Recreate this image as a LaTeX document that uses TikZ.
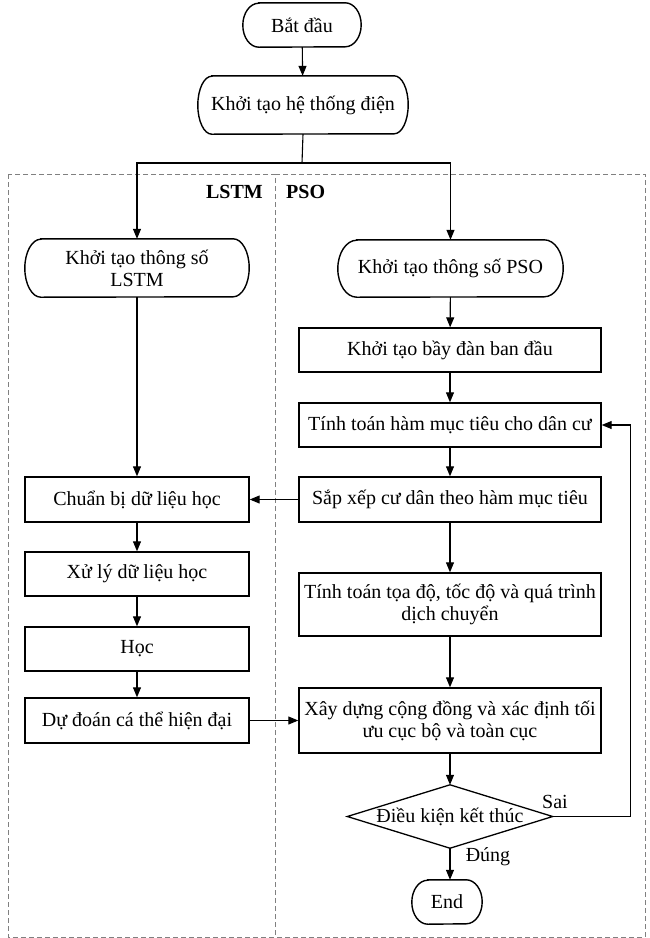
\documentclass[tikz,border=0pt]{standalone}
\usepackage{fontspec}
\setmainfont{Liberation Serif}
\usetikzlibrary{arrows.meta}

% Outline of a terminal box: flat top and bottom, elliptic ends.
% #1 node name, #2 horizontal radius of the ends, #3 half height
\newcommand\termshape[3]{%
  \draw[outline] ([xshift=#2]#1.north west) -- ([xshift=-#2]#1.north east)
    arc[start angle=90, end angle=-90, x radius=#2, y radius=#3]
    -- ([xshift=#2]#1.south west)
    arc[start angle=270, end angle=90, x radius=#2, y radius=#3] -- cycle;}

\begin{document}
\begin{tikzpicture}[x=1pt,y=1pt,
  txt/.style={font=\fontsize{20}{22}\selectfont, align=center, inner sep=0pt},
  outline/.style={draw=black, line width=1.4pt},
  proc/.style={txt, outline, rectangle},
  flow/.style={line width=1.1pt, -{Triangle[length=10pt,width=8pt]}},
  link/.style={line width=1.1pt},
  lane/.style={draw=black!50, line width=0.8pt, dash pattern=on 5pt off 3pt},
  lanelabel/.style={font=\fontsize{20}{22}\selectfont\bfseries, inner sep=0pt}
]
\useasboundingbox (0,0) rectangle (649,-938);

% swim lanes (the PSO lane shares the divider with the LSTM lane)
\draw[lane] (8,-174) rectangle (275,-937);
\draw[lane] (275,-174) -- (645,-174) -- (645,-937) -- (275,-937);
\node[lanelabel, anchor=east] (lstmlabel) at (263,-192) {LSTM};
\node[lanelabel, anchor=west] (psolabel) at (286,-192) {PSO};

% common part
\node[txt, minimum width=118, minimum height=44] (start) at (302,-25) {Bắt đầu};
\node[txt, minimum width=210, minimum height=58] (sysinit) at (303,-105) {Khởi tạo hệ thống điện};
\coordinate (split) at (302,-163);

% LSTM branch
\node[txt, minimum width=224, minimum height=58] (lstminit) at (137,-268) {Khởi tạo thông số\\LSTM};
\node[proc, minimum width=224, minimum height=45] (prep) at (137,-499.5) {Chuẩn bị dữ liệu học};
\node[proc, minimum width=224, minimum height=44] (clean) at (137,-574) {Xử lý dữ liệu học};
\node[proc, minimum width=224, minimum height=44] (learn) at (137,-649) {Học};
\node[proc, minimum width=224, minimum height=45] (predict) at (137,-720.5) {Dự đoán cá thể hiện đại};

% PSO branch
\node[txt, minimum width=225, minimum height=57] (psoinit) at (450.5,-268.5) {Khởi tạo thông số PSO};
\node[proc, minimum width=302, minimum height=44] (swarm) at (450,-350) {Khởi tạo bầy đàn ban đầu};
\node[proc, minimum width=302, minimum height=44] (fitness) at (450,-425) {Tính toán hàm mục tiêu cho dân cư};
\node[proc, minimum width=302, minimum height=45] (sort) at (450,-499.5) {Sắp xếp cư dân theo hàm mục tiêu};
\node[proc, minimum width=302, minimum height=63] (move) at (450,-604.5) {Tính toán tọa độ, tốc độ và quá trình\\dịch chuyển};
\node[proc, minimum width=302, minimum height=65] (build) at (450,-720.5) {Xây dựng cộng đồng và xác định tối\\ưu cục bộ và toàn cục};
\node[txt, minimum width=205, minimum height=63] (cond) at (450,-816.5) {Điều kiện kết thúc};
\node[txt, minimum width=70, minimum height=44] (finish) at (447,-902) {End};

% shape outlines
\termshape{start}{16}{22}
\termshape{sysinit}{14}{29}
\termshape{lstminit}{16}{29}
\termshape{psoinit}{19}{28.5}
\termshape{finish}{16}{22}
\draw[outline, line width=1.3pt] (cond.north) -- (cond.east) -- (cond.south) -- (cond.west) -- cycle;

% connectors
\draw[flow] (start) -- (sysinit);
\draw[link] (sysinit.south) -- (split);
\draw[flow] (split) -| (lstminit.north);
\draw[flow] (split) -| (psoinit.north);

\draw[flow] (lstminit) -- (prep);
\draw[flow] (prep) -- (clean);
\draw[flow] (clean) -- (learn);
\draw[flow] (learn) -- (predict);

\draw[flow] (psoinit) -- (swarm);
\draw[flow] (swarm) -- (fitness);
\draw[flow] (fitness) -- (sort);
\draw[flow] (sort) -- (move);
\draw[flow] (move) -- (build);
\draw[flow] (build) -- (cond);
\draw[flow] (cond.south) -- (cond.south |- finish.north);

\draw[flow] (sort) -- (prep);
\draw[flow] (predict) -- (build);
\draw[flow] (cond.east) -- ++(78,0) |- (fitness.east);

\node[txt] (sai) at (555,-802) {Sai};
\node[txt] (dung) at (488,-857) {Đúng};
\end{tikzpicture}
\end{document}
